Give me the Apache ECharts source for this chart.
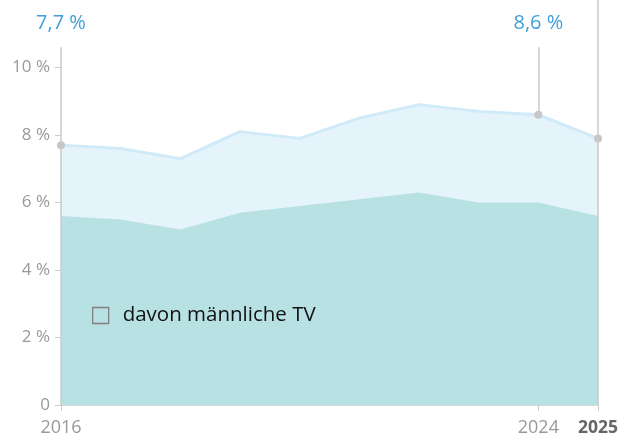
<!DOCTYPE html>
<html>
<head>
<meta charset="utf-8">
<script src="https://cdn.jsdelivr.net/npm/echarts@6/dist/echarts.min.js"></script>
<style>
html, body { margin: 0; padding: 0; background: #fff; }
#chart { width: 622px; height: 439px; }
</style>
</head>
<body>
<div id="chart"></div>
<script>
// Jahre
var years = ['2016', '2017', '2018', '2019', '2020', '2021', '2022', '2023', '2024', '2025'];
// Anteil gesamt in %
var gesamt = [7.7, 7.6, 7.3, 8.1, 7.9, 8.5, 8.9, 8.7, 8.6, 7.9];
// davon männliche TV in %
var maennlich = [5.6, 5.5, 5.2, 5.7, 5.9, 6.1, 6.3, 6.0, 6.0, 5.6];
// beschriftete Jahre unten / Punkte
var labelYears = ['2016', '2024', '2025'];
var yTicks = [0, 2, 4, 6, 8, 10];

var fontFamily = '"Open Sans", "Noto Sans", sans-serif';
var greyLine = '#cacaca';

function fmt(v) {
    return v.toFixed(1).replace('.', ',') + ' %';
}

var chart = echarts.init(document.getElementById('chart'), null, { renderer: 'canvas' });

var option = {
    animation: false,
    backgroundColor: '#fff',
    textStyle: { fontFamily: fontFamily },
    grid: { left: 61, right: 24, top: -4, bottom: 34 },
    legend: {
        data: ['davon männliche TV'],
        left: 92,
        top: 305,
        padding: 0,
        icon: 'rect',
        itemWidth: 16,
        itemHeight: 16,
        itemGap: 10,
        itemStyle: { color: 'transparent', borderColor: '#808080', borderWidth: 1.3 },
        textStyle: { fontSize: 20.5, color: '#111', fontFamily: fontFamily, padding: [0, 0, 0, 9] },
        selectedMode: false
    },
    xAxis: {
        type: 'category',
        data: years,
        boundaryGap: false,
        axisLine: { lineStyle: { color: '#d8d8d8', width: 1 } },
        axisTick: {
            show: true,
            length: 6,
            interval: function (i, v) { return labelYears.indexOf(v) >= 0; },
            lineStyle: { color: '#cccccc' }
        },
        axisLabel: {
            interval: function (i, v) { return labelYears.indexOf(v) >= 0; },
            margin: 14,
            fontSize: 18,
            color: '#999',
            formatter: function (v) {
                return v === years[years.length - 1] ? '{b|' + v + '}' : v;
            },
            rich: { b: { fontSize: 17.5, fontWeight: 'bold', color: '#666', fontFamily: fontFamily } }
        },
        splitLine: { show: false }
    },
    yAxis: {
        type: 'value',
        min: 0,
        max: 12,
        interval: 2,
        axisLine: { show: false },
        axisTick: { show: true, length: 6, customValues: yTicks, lineStyle: { color: '#cccccc' } },
        axisLabel: {
            fontSize: 17,
            color: '#999',
            margin: 11,
            customValues: yTicks,
            formatter: function (v) {
                return v === 0 ? '0' : v + ' %';
            }
        },
        splitLine: { show: false }
    },
    series: [
        {
            name: 'gesamt',
            type: 'line',
            data: gesamt,
            z: 2,
            symbol: 'circle',
            symbolSize: function (val, params) {
                return labelYears.indexOf(years[params.dataIndex]) >= 0 ? 8 : 0;
            },
            showSymbol: true,
            itemStyle: { color: '#c6c6c6' },
            lineStyle: { color: '#cfeaf9', width: 3 },
            areaStyle: { color: '#e5f4fb', opacity: 1 },
            markLine: {
                silent: true,
                symbol: 'none',
                label: { show: false },
                lineStyle: { color: greyLine, width: 1.5, type: 'solid' },
                data: [
                    [{ coord: ['2016', 0] }, { coord: ['2016', 10.6] }],
                    [{ coord: ['2024', 8.6] }, { coord: ['2024', 10.6] }],
                    [{ coord: ['2025', 0] }, { coord: ['2025', 12] }]
                ]
            },
            markPoint: {
                silent: true,
                symbol: 'circle',
                symbolSize: 0,
                label: {
                    show: true,
                    position: 'inside',
                    color: '#3ea0da',
                    fontSize: 20,
                    formatter: function (p) { return fmt(p.value); }
                },
                data: [
                    { coord: ['2016', 11.3], value: gesamt[0] },
                    { coord: ['2024', 11.3], value: gesamt[8] }
                ]
            }
        },
        {
            name: 'davon männliche TV',
            type: 'line',
            data: maennlich,
            z: 3,
            symbol: 'none',
            lineStyle: { width: 0 },
            itemStyle: { color: '#b8e1e3' },
            areaStyle: { color: '#b8e1e3', opacity: 1 }
        }
    ]
};

chart.setOption(option);
</script>
</body>
</html>
